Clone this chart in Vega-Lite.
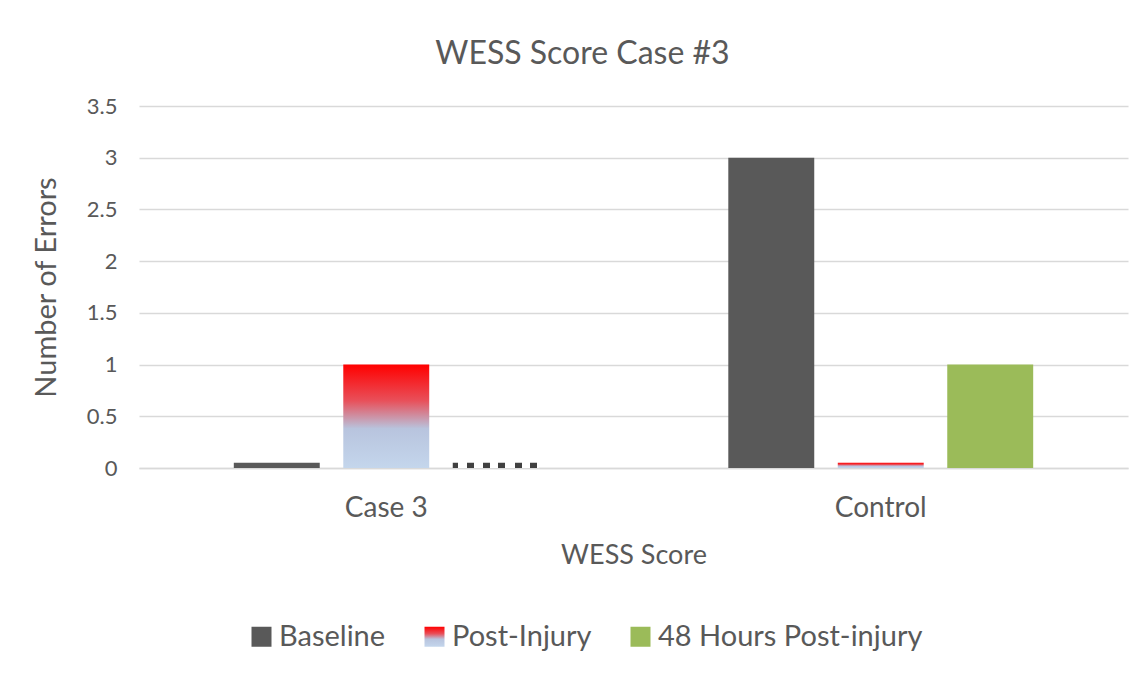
{
  "$schema": "https://vega.github.io/schema/vega-lite/v6.json",
  "autosize": {"type": "none"},
  "width": 989,
  "height": 362,
  "padding": {"left": 139, "top": 106, "right": 18, "bottom": 207},
  "background": "white",
  "config": {
    "font": "Lato",
    "view": {"stroke": null}
  },
  "title": {
    "text": "WESS Score Case #3",
    "fontSize": 32,
    "font": "Lato",
    "fontWeight": "normal",
    "color": "#595959",
    "dx": -51,
    "offset": 24
  },
  "data": {
    "values": [
      {"group": "Case 3", "series": "Baseline", "value": 0.05},
      {"group": "Case 3", "series": "Post-Injury", "value": 1},
      {"group": "Case 3", "series": "48 Hours Post-injury", "value": 0.05},
      {"group": "Control", "series": "Baseline", "value": 3},
      {"group": "Control", "series": "Post-Injury", "value": 0.05},
      {"group": "Control", "series": "48 Hours Post-injury", "value": 1}
    ]
  },
  "mark": {"type": "bar"},
  "encoding": {
    "x": {
      "field": "group",
      "type": "nominal",
      "scale": {"paddingInner": 0, "paddingOuter": 0},
      "axis": {
        "title": "WESS Score",
        "titleFontSize": 27,
        "titleFontWeight": "normal",
        "titleColor": "#595959",
        "titlePadding": 20,
        "labelAngle": 0,
        "labelFontSize": 28,
        "labelColor": "#595959",
        "labelPadding": 26,
        "ticks": false,
        "domainColor": "#D9D9D9",
        "domainWidth": 1.5,
        "grid": false
      }
    },
    "xOffset": {
      "field": "series",
      "type": "nominal",
      "sort": ["Baseline", "Post-Injury", "48 Hours Post-injury"],
      "scale": {"paddingInner": 0.215, "paddingOuter": 0.866}
    },
    "y": {
      "field": "value",
      "type": "quantitative",
      "scale": {"domain": [0, 3.5]},
      "axis": {
        "title": "Number of Errors",
        "titleFontSize": 29,
        "titleFontWeight": "normal",
        "titleColor": "#595959",
        "titlePadding": 25,
        "values": [0, 0.5, 1, 1.5, 2, 2.5, 3, 3.5],
        "format": "~g",
        "labelFontSize": 22,
        "labelColor": "#595959",
        "labelPadding": 22,
        "ticks": false,
        "domain": false,
        "gridColor": "#D9D9D9",
        "gridWidth": 1.3
      }
    },
    "fill": {
      "field": "series",
      "type": "nominal",
      "sort": ["Baseline", "Post-Injury", "48 Hours Post-injury"],
      "scale": {
        "domain": ["Baseline", "Post-Injury", "48 Hours Post-injury"],
        "range": ["#595959", "url(#gradient_0)", "#9BBB59"]
      },
      "condition": [
        {
          "test": "datum.series === 'Post-Injury'",
          "value": {"gradient": "linear", "x1": 0, "y1": 0, "x2": 0, "y2": 1,
            "stops": [
              {"offset": 0, "color": "#FF0000"},
              {"offset": 0.35, "color": "#E8505A"},
              {"offset": 0.62, "color": "#B8C4DE"},
              {"offset": 1, "color": "#C4D6EC"}
            ]}
        },
        {
          "test": "datum.group === 'Case 3' && datum.series === '48 Hours Post-injury'",
          "value": {"gradient": "linear", "x1": 0, "y1": 0, "x2": 1, "y2": 0,
            "stops": [
              {"offset": 0.0, "color": "#404040"}, {"offset": 0.06, "color": "#404040"}, {"offset": 0.06, "color": "#ffffff"}, {"offset": 0.17, "color": "#ffffff"},
              {"offset": 0.17, "color": "#404040"}, {"offset": 0.25, "color": "#404040"}, {"offset": 0.25, "color": "#ffffff"}, {"offset": 0.35, "color": "#ffffff"},
              {"offset": 0.35, "color": "#404040"}, {"offset": 0.43, "color": "#404040"}, {"offset": 0.43, "color": "#ffffff"}, {"offset": 0.53, "color": "#ffffff"},
              {"offset": 0.53, "color": "#404040"}, {"offset": 0.61, "color": "#404040"}, {"offset": 0.61, "color": "#ffffff"}, {"offset": 0.72, "color": "#ffffff"},
              {"offset": 0.72, "color": "#404040"}, {"offset": 0.80, "color": "#404040"}, {"offset": 0.80, "color": "#ffffff"}, {"offset": 0.90, "color": "#ffffff"},
              {"offset": 0.90, "color": "#404040"}, {"offset": 0.98, "color": "#404040"}, {"offset": 0.98, "color": "#ffffff"}, {"offset": 1, "color": "#ffffff"}
            ]}
        }
      ],
      "legend": {
        "title": null,
        "orient": "none",
        "legendX": 108,
        "legendY": 516,
        "padding": 0,
        "direction": "horizontal",
        "symbolType": "square",
        "symbolSize": 400,
        "symbolStrokeWidth": 0,
        "labelFontSize": 29,
        "labelLimit": 500,
        "labelColor": "#595959",
        "columnPadding": 34,
        "labelOffset": 3
      }
    }
  }
}
